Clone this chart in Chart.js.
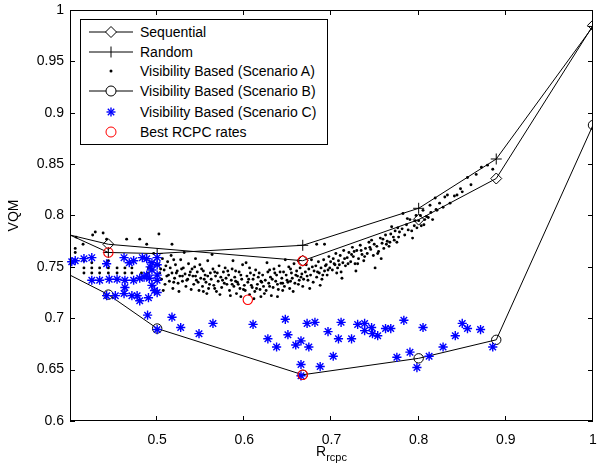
<!DOCTYPE html>
<html><head><meta charset="utf-8">
<script src="https://cdn.jsdelivr.net/npm/chart.js@4"></script>
<style>
html,body{margin:0;padding:0;background:#fff;}
#wrap{position:relative;width:601px;height:463px;font-family:"Liberation Sans",Arial,Helvetica,sans-serif;overflow:hidden;}
#c{position:absolute;left:0;top:0;}
#legend{position:absolute;left:80px;top:19px;width:246px;height:124px;border:1px solid #000;background:#fff;}
.row{position:absolute;left:0;height:20px;width:100%;}
.row svg{position:absolute;left:0;top:0;}
.row span{position:absolute;left:59px;top:0;font-size:14px;line-height:20px;color:#000;white-space:nowrap;}
#xt{position:absolute;left:316px;top:444px;font-size:14px;line-height:14px;color:#000;white-space:nowrap;}
#xt sub{font-size:11px;vertical-align:-5px;line-height:11px;}
</style>
</head><body>
<div id="wrap">
<canvas id="c" width="601" height="463"></canvas>
<div id="legend">
 <div class="row" style="top:2px"><svg width="58" height="20"><line x1="8" y1="10" x2="52" y2="10" stroke="#000" stroke-width="1"/><polygon points="30,4.5 35.5,10 30,15.5 24.5,10" fill="#fff" stroke="#000" stroke-width="1"/></svg><span>Sequential</span></div>
 <div class="row" style="top:22px"><svg width="58" height="20"><line x1="8" y1="10" x2="52" y2="10" stroke="#000" stroke-width="1"/><line x1="30" y1="4.5" x2="30" y2="15.5" stroke="#000" stroke-width="1"/></svg><span>Random</span></div>
 <div class="row" style="top:41px"><svg width="58" height="20"><circle cx="30" cy="10" r="1.5" fill="#000"/></svg><span>Visibility Based (Scenario A)</span></div>
 <div class="row" style="top:61px"><svg width="58" height="20"><line x1="8" y1="10" x2="52" y2="10" stroke="#000" stroke-width="1"/><circle cx="30" cy="10" r="5" fill="#fff" stroke="#000" stroke-width="1"/></svg><span>Visibility Based (Scenario B)</span></div>
 <div class="row" style="top:82px"><svg width="58" height="20"><g stroke="#0000ff" stroke-width="1.4"><line x1="25.5" y1="10" x2="34.5" y2="10"/><line x1="30" y1="5.5" x2="30" y2="14.5"/><line x1="26.8" y1="6.8" x2="33.2" y2="13.2"/><line x1="26.8" y1="13.2" x2="33.2" y2="6.8"/></g></svg><span>Visibility Based (Scenario C)</span></div>
 <div class="row" style="top:102px"><svg width="58" height="20"><circle cx="30" cy="10" r="5" fill="none" stroke="#ff0000" stroke-width="1"/></svg><span>Best RCPC rates</span></div>
</div>
<div id="xt">R<sub>rcpc</sub></div>
</div>
<script>
const xTicks=[0.5,0.6,0.7,0.8,0.9,1];
const yTicks=[0.6,0.65,0.7,0.75,0.8,0.85,0.9,0.95,1];

const seqX=[0.4,0.444,0.667,0.8,0.889,1];
const seqY=[0.781,0.772,0.756,0.796,0.836,0.985];
const rndX=[0.4,0.444,0.5,0.667,0.8,0.889,1];
const rndY=[0.781,0.764,0.763,0.771,0.807,0.855,0.984];
const scBX=[0.4,0.444,0.5,0.667,0.8,0.889,1];
const scBY=[0.742,0.723,0.69,0.645,0.661,0.679,0.888];
const bestX=[0.444,0.604,0.667,0.667];
const bestY=[0.764,0.718,0.756,0.645];

const scenarioA=[
[0.406,0.764],[0.407,0.779],[0.415,0.772],[0.416,0.756],[0.416,0.749],[0.416,0.744],[0.425,0.754],[0.425,0.749],[0.425,0.744],[0.426,0.781],[0.429,0.784],[0.434,0.749],[0.434,0.744],[0.438,0.783],[0.442,0.777],[0.444,0.756],[0.444,0.749],[0.444,0.744],[0.454,0.749],[0.454,0.744],[0.463,0.744],[0.463,0.749],[0.465,0.777],[0.471,0.749],[0.471,0.744],[0.48,0.777],[0.482,0.744],[0.488,0.772],[0.49,0.749],[0.49,0.744],[0.502,0.782],[0.517,0.772],[0.406,0.768],[0.496,0.763],
[0.502,0.752],[0.503,0.744],[0.505,0.738],[0.506,0.758],[0.508,0.747],[0.509,0.733],[0.511,0.741],[0.512,0.755],[0.514,0.736],[0.515,0.749],[0.517,0.744],[0.518,0.729],[0.52,0.739],[0.521,0.752],[0.523,0.746],[0.524,0.734],[0.526,0.741],[0.527,0.757],[0.529,0.736],[0.53,0.749],[0.532,0.743],[0.533,0.731],[0.535,0.738],[0.536,0.753],[0.538,0.745],[0.539,0.728],[0.531,0.764],[0.516,0.761],[0.507,0.727],[0.525,0.726],
[0.504,0.748],[0.51,0.751],[0.513,0.742],[0.519,0.735],[0.522,0.744],[0.528,0.748],[0.534,0.737],[0.537,0.742],[0.54,0.748],[0.544,0.741],[0.554,0.738],[0.56,0.733],[0.569,0.744],[0.575,0.737],[0.581,0.746],[0.519,0.757],[0.529,0.741],[0.558,0.741],[0.566,0.729],[0.553,0.726],
[0.541,0.741],[0.542,0.733],[0.543,0.75],[0.545,0.737],[0.546,0.745],[0.548,0.727],[0.549,0.752],[0.55,0.739],[0.552,0.731],[0.553,0.746],[0.555,0.742],[0.556,0.735],[0.558,0.756],[0.559,0.729],[0.561,0.744],[0.562,0.738],[0.564,0.748],[0.565,0.732],[0.567,0.741],[0.568,0.726],[0.57,0.736],[0.571,0.751],[0.573,0.74],[0.574,0.73],[0.576,0.745],[0.577,0.734],[0.579,0.739],[0.544,0.758],[0.557,0.724],[0.563,0.762],[0.572,0.723],[0.578,0.749],[0.551,0.748],[0.566,0.745],[0.547,0.735],
[0.58,0.733],[0.582,0.742],[0.583,0.727],[0.585,0.737],[0.586,0.748],[0.588,0.731],[0.589,0.74],[0.591,0.724],[0.592,0.735],[0.594,0.745],[0.595,0.729],[0.597,0.738],[0.598,0.752],[0.6,0.732],[0.601,0.727],[0.603,0.741],[0.604,0.735],[0.606,0.723],[0.607,0.744],[0.609,0.73],[0.61,0.738],[0.612,0.726],[0.613,0.747],[0.615,0.733],[0.616,0.74],[0.618,0.728],[0.619,0.736],[0.587,0.756],[0.596,0.721],[0.602,0.754],[0.611,0.719],[0.608,0.732],[0.593,0.733],[0.617,0.744],[0.584,0.722],
[0.586,0.733],[0.59,0.736],[0.596,0.742],[0.599,0.728],[0.605,0.738],[0.611,0.742],[0.614,0.729],[0.62,0.735],[0.623,0.724],[0.629,0.731],[0.632,0.738],[0.638,0.733],[0.641,0.745],[0.644,0.727],[0.653,0.736],[0.659,0.742],[0.662,0.733],[0.665,0.74],[0.629,0.747],[0.606,0.749],[0.59,0.746],[0.644,0.734],[0.653,0.748],[0.619,0.721],
[0.621,0.742],[0.622,0.731],[0.624,0.737],[0.625,0.727],[0.627,0.745],[0.628,0.734],[0.63,0.74],[0.631,0.722],[0.633,0.73],[0.634,0.748],[0.636,0.736],[0.637,0.742],[0.639,0.728],[0.64,0.751],[0.642,0.734],[0.643,0.739],[0.645,0.745],[0.646,0.731],[0.648,0.742],[0.649,0.737],[0.651,0.75],[0.652,0.729],[0.654,0.744],[0.655,0.739],[0.657,0.753],[0.658,0.734],[0.66,0.746],[0.661,0.741],[0.663,0.737],[0.664,0.749],[0.666,0.743],[0.667,0.731],[0.668,0.738],[0.626,0.754],[0.638,0.721],[0.647,0.757],[0.656,0.726],[0.662,0.756],[0.635,0.744],[0.65,0.735],
[0.67,0.745],[0.671,0.752],[0.673,0.737],[0.674,0.748],[0.676,0.742],[0.677,0.757],[0.679,0.735],[0.68,0.746],[0.682,0.751],[0.683,0.74],[0.685,0.755],[0.686,0.744],[0.688,0.749],[0.689,0.738],[0.691,0.757],[0.692,0.746],[0.694,0.752],[0.695,0.742],[0.697,0.76],[0.698,0.749],[0.683,0.772],[0.692,0.772],[0.675,0.729],[0.687,0.732],[0.699,0.755],
[0.672,0.741],[0.678,0.75],[0.684,0.745],[0.69,0.742],[0.693,0.751],[0.696,0.747],[0.703,0.753],[0.706,0.744],[0.709,0.752],[0.715,0.758],[0.719,0.753],[0.723,0.762],[0.726,0.765],[0.73,0.753],[0.734,0.766],[0.738,0.76],[0.744,0.769],[0.749,0.772],[0.753,0.763],[0.759,0.777],[0.763,0.772],[0.768,0.782],[0.772,0.776],[0.777,0.779],[0.781,0.787],[0.787,0.797],[0.792,0.785],[0.796,0.795],[0.802,0.8],[0.807,0.796],
[0.701,0.747],[0.702,0.758],[0.704,0.752],[0.705,0.763],[0.707,0.749],[0.708,0.756],[0.71,0.761],[0.711,0.745],[0.713,0.754],[0.714,0.766],[0.716,0.751],[0.718,0.759],[0.72,0.764],[0.722,0.755],[0.724,0.769],[0.725,0.76],[0.727,0.753],[0.729,0.766],[0.731,0.758],[0.733,0.771],[0.735,0.762],[0.737,0.756],[0.739,0.768],[0.712,0.739],[0.728,0.746],
[0.741,0.763],[0.743,0.774],[0.745,0.767],[0.746,0.776],[0.748,0.761],[0.75,0.749],[0.752,0.77],[0.754,0.765],[0.756,0.778],[0.758,0.773],[0.76,0.768],[0.762,0.781],[0.764,0.775],[0.766,0.77],[0.767,0.774],[0.769,0.789],[0.771,0.779],[0.773,0.785],[0.775,0.774],[0.776,0.788],[0.778,0.784],[0.757,0.758],
[0.782,0.802],[0.784,0.781],[0.786,0.791],[0.788,0.786],[0.79,0.796],[0.793,0.778],[0.795,0.79],[0.797,0.8],[0.798,0.788],[0.8,0.795],[0.803,0.79],[0.805,0.805],[0.806,0.791],[0.809,0.799],[0.811,0.798],[0.813,0.81],[0.814,0.803],[0.816,0.796],[0.819,0.817],[0.82,0.806],
[0.821,0.805],[0.824,0.812],[0.828,0.808],[0.83,0.818],[0.833,0.82],[0.836,0.812],[0.841,0.819],[0.844,0.82],[0.848,0.826],[0.85,0.823],[0.856,0.837],[0.86,0.83],[0.866,0.84],[0.872,0.847],[0.879,0.849],[0.885,0.845]
];

const scenarioC=[
[0.402,0.755],[0.406,0.756],[0.416,0.758],[0.425,0.759],[0.442,0.753],[0.462,0.759],[0.468,0.754],[0.473,0.756],[0.483,0.759],[0.488,0.758],[0.494,0.754],[0.5,0.759],[0.492,0.75],[0.494,0.747],[0.5,0.752],[0.485,0.74],[0.491,0.739],[0.5,0.742],[0.5,0.737],[0.494,0.732],[0.497,0.727],[0.477,0.722],[0.48,0.717],[0.471,0.722],[0.462,0.724],[0.452,0.722],[0.442,0.722],[0.473,0.737],[0.463,0.737],[0.454,0.738],[0.445,0.738],[0.434,0.737],[0.425,0.737],[0.463,0.73],[0.488,0.742],[0.48,0.739],[0.5,0.725],[0.49,0.72],
[0.489,0.703],[0.5,0.689],[0.517,0.701],[0.527,0.691],[0.548,0.685],[0.564,0.695],[0.61,0.694],[0.647,0.699],[0.672,0.695],[0.681,0.696],[0.711,0.696],[0.73,0.694],[0.738,0.695],[0.746,0.691],[0.738,0.688],[0.747,0.685],[0.753,0.683],[0.762,0.69],[0.768,0.69],[0.783,0.698],[0.805,0.691],[0.85,0.695],[0.856,0.69],[0.871,0.689],[0.842,0.683],[0.696,0.687],[0.708,0.68],[0.723,0.68],[0.65,0.684],[0.627,0.68],[0.637,0.672],[0.659,0.674],[0.665,0.678],[0.674,0.672],[0.702,0.663],[0.665,0.655],[0.665,0.644],[0.687,0.653],[0.775,0.662],[0.79,0.667],[0.798,0.652],[0.812,0.663],[0.828,0.672],[0.885,0.672]
];

const FONT='"Liberation Sans", Arial, Helvetica, sans-serif';
const zip=(xs,ys)=>xs.map((x,i)=>({x:x,y:ys[i]}));
const pts=a=>a.map(p=>({x:p[0],y:p[1]}));
const edgeR=r=>(ctx)=>{const v=ctx.raw; return (v && v.x<=0.4)?0:r;};
const fmt=v=>String(Math.round(v*100)/100);

const frame={id:'frame',afterDatasetsDraw(c){
  const {ctx,chartArea:a,scales:{x,y}}=c;
  ctx.save();
  ctx.strokeStyle='#000';ctx.lineWidth=1;
  ctx.strokeRect(a.left+0.5,a.top+0.5,a.right-a.left-1,a.bottom-a.top-1);
  ctx.beginPath();
  xTicks.forEach(v=>{const p=Math.round(x.getPixelForValue(v))-0.5;ctx.moveTo(p,a.bottom);ctx.lineTo(p,a.bottom-5);ctx.moveTo(p,a.top);ctx.lineTo(p,a.top+5);});
  yTicks.forEach(v=>{const p=Math.round(y.getPixelForValue(v))+0.5;ctx.moveTo(a.left,p);ctx.lineTo(a.left+5,p);ctx.moveTo(a.right,p);ctx.lineTo(a.right-5,p);});
  ctx.stroke();ctx.restore();
}};

new Chart(document.getElementById('c'),{
  type:'scatter',
  data:{datasets:[
    {label:'Best RCPC rates',data:zip(bestX,bestY),showLine:false,pointStyle:'circle',pointRadius:4.7,pointBorderColor:'#ff0000',pointBackgroundColor:'rgba(0,0,0,0)',pointBorderWidth:1.1,order:0,clip:false},
    {label:'Visibility Based (Scenario C)',data:pts(scenarioC),showLine:false,pointStyle:'star',pointRadius:4.6,pointBorderColor:'#0000ff',pointBackgroundColor:'#0000ff',pointBorderWidth:1.4,order:1,clip:false},
    {label:'Visibility Based (Scenario B)',data:zip(scBX,scBY),showLine:true,borderColor:'#000',borderWidth:1,pointStyle:'circle',pointRadius:edgeR(4.7),pointBorderColor:'#000',pointBackgroundColor:'rgba(0,0,0,0)',pointBorderWidth:1,order:2},
    {label:'Visibility Based (Scenario A)',data:pts(scenarioA),showLine:false,pointStyle:'circle',pointRadius:1.45,pointBorderWidth:0,pointBackgroundColor:'#000',pointBorderColor:'#000',order:3,clip:false},
    {label:'Random',data:zip(rndX,rndY),showLine:true,borderColor:'#000',borderWidth:1,pointStyle:'cross',pointRadius:edgeR(5.5),pointBorderColor:'#000',pointBorderWidth:1,order:4},
    {label:'Sequential',data:zip(seqX,seqY),showLine:true,borderColor:'#000',borderWidth:1,pointStyle:'rectRot',pointRadius:edgeR(5.5),pointBorderColor:'#000',pointBackgroundColor:'rgba(0,0,0,0)',pointBorderWidth:1,order:5}
  ]},
  options:{
    responsive:false,animation:false,
    layout:{padding:{top:10,right:8,left:0,bottom:0}},
    plugins:{legend:{display:false},tooltip:{enabled:false}},
    elements:{line:{tension:0}},
    scales:{
      x:{type:'linear',min:0.4,max:1,
        afterBuildTicks:s=>{s.ticks=xTicks.map(v=>({value:v}));},
        afterFit:s=>{s.height=42;},
        grid:{display:false,drawTicks:true,tickLength:11},border:{display:false},
        ticks:{callback:v=>fmt(v),font:{size:14,family:FONT},color:'#000',padding:0,maxRotation:0,autoSkip:false}},
      y:{type:'linear',min:0.6,max:1,
        afterBuildTicks:s=>{s.ticks=yTicks.map(v=>({value:v}));},
        afterFit:s=>{s.width=70;},
        grid:{display:false,drawTicks:true,tickLength:6},border:{display:false},
        title:{display:true,text:'VQM',font:{size:14,family:FONT},color:'#000',padding:{top:6,bottom:0}},
        ticks:{callback:v=>fmt(v),font:{size:14,family:FONT},color:'#000',padding:0,autoSkip:false}}
    }
  },
  plugins:[frame]
});
</script>
</body></html>
